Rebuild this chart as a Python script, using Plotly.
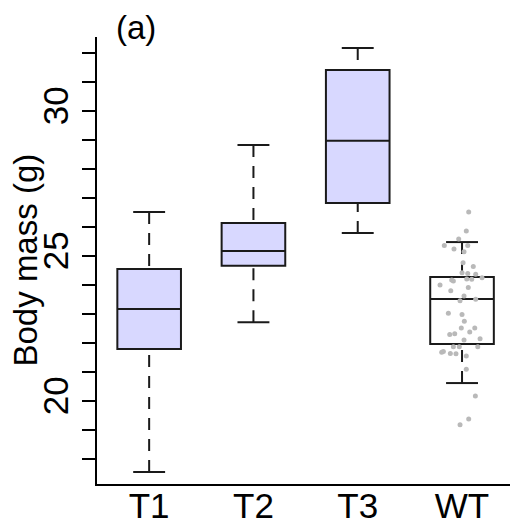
import plotly.graph_objects as go

# ---- data ----
groups = ["T1", "T2", "T3", "WT"]
positions = [1, 2, 3, 4]
lower_whisker = [17.55, 22.72, 25.79, 20.62]
q1 = [21.79, 24.66, 26.83, 21.97]
median = [23.17, 25.17, 28.97, 23.52]
q3 = [24.55, 26.14, 31.41, 24.28]
upper_whisker = [26.52, 28.83, 32.17, 25.48]

wt_values = [26.52, 25.86, 25.59, 25.36, 25.24, 25.36, 25.15, 24.77, 24.64, 24.40,
             24.37, 24.25, 24.42, 24.20, 24.21, 24.17, 24.14, 24.00, 23.80, 23.91,
             23.62, 23.51, 23.46, 23.03, 22.98, 22.75, 22.52, 22.52, 22.38, 22.32,
             22.29, 22.10, 22.15, 21.87, 21.87, 21.87, 21.71, 21.68, 21.64, 21.63,
             21.55, 21.10, 20.17, 19.38, 19.18]
wt_jitter = [0.064, 0.041, -0.032, -0.170, -0.077, 0.055, 0.019, 0.010, 0.108, 0.055,
             0.131, 0.192, 0.0, 0.093, 0.045, -0.099, -0.083, -0.211, -0.108, 0.060,
             0.019, 0.131, -0.019, -0.131, 0.0, 0.022, -0.007, 0.122, 0.074, -0.070,
             -0.118, 0.019, 0.173, 0.151, -0.083, -0.026, -0.179, -0.195, -0.112, -0.058,
             0.041, 0.041, 0.128, 0.064, -0.019]

y_ticks = list(range(18, 33))
y_labels = {20: "20", 25: "25", 30: "30"}
y_title = "Body mass (g)"
panel_label = "(a)"

# ---- styling ----
BOX_FILL = "rgb(216,216,255)"
LINE = "#1a1a1a"
BOX_W = 0.61
CAP_HALF = 0.153

fig = go.Figure()

# boxes (whiskers drawn separately, dashed)
for idx_set, fill in (([0, 1, 2], BOX_FILL), ([3], "white")):
    fig.add_trace(go.Box(
        x=[positions[i] for i in idx_set],
        q1=[q1[i] for i in idx_set],
        median=[median[i] for i in idx_set],
        q3=[q3[i] for i in idx_set],
        lowerfence=[q1[i] for i in idx_set],
        upperfence=[q3[i] for i in idx_set],
        width=BOX_W,
        whiskerwidth=0,
        fillcolor=fill,
        line=dict(color=LINE, width=2),
        boxpoints=False,
        hoverinfo="skip",
        showlegend=False,
    ))

# dashed whiskers (from staple to box edge)
wx, wy = [], []
for i, p in enumerate(positions):
    wx += [p, p, None, p, p, None]
    wy += [lower_whisker[i], q1[i], None, upper_whisker[i], q3[i], None]
fig.add_trace(go.Scatter(x=wx, y=wy, mode="lines",
                         line=dict(color=LINE, width=2, dash="12px,9px"),
                         hoverinfo="skip", showlegend=False))

# staples
sx, sy = [], []
for i, p in enumerate(positions):
    for v in (lower_whisker[i], upper_whisker[i]):
        sx += [p - CAP_HALF, p + CAP_HALF, None]
        sy += [v, v, None]
fig.add_trace(go.Scatter(x=sx, y=sy, mode="lines",
                         line=dict(color=LINE, width=2),
                         hoverinfo="skip", showlegend=False))

# WT raw points
fig.add_trace(go.Scatter(
    x=[positions[3] + d for d in wt_jitter], y=wt_values, mode="markers",
    marker=dict(color="rgb(185,185,185)", size=5),
    hoverinfo="skip", showlegend=False))

FONT = "Liberation Sans, Arial, sans-serif"

fig.update_layout(
    width=510, height=527,
    margin=dict(l=97, r=0, t=37, b=43, autoexpand=False),
    paper_bgcolor="white", plot_bgcolor="white",
    boxmode="overlay",
    font=dict(family=FONT, color="black"),
    xaxis=dict(range=[0.5, 4.46], tickvals=positions, ticktext=groups,
               ticks="", showgrid=False, zeroline=False, automargin=False,
               showline=True, linecolor="black", linewidth=2,
               tickfont=dict(size=35), ticklabelstandoff=-10),
    yaxis=dict(range=[17.14, 32.55], tickvals=y_ticks,
               ticktext=[y_labels.get(t, "") for t in y_ticks],
               ticks="outside", ticklen=13, tickwidth=2, tickcolor="black",
               tickangle=-90, showgrid=False, zeroline=False, automargin=False,
               showline=True, linecolor="black", linewidth=2,
               tickfont=dict(size=35)),
    annotations=[
        dict(text=panel_label, xref="paper", yref="paper",
             x=(114 - 97) / 413, xanchor="left",
             y=1 + (37 - 27.5) / 447, yanchor="middle",
             showarrow=False, font=dict(family=FONT, size=33, color="black")),
        dict(text=y_title, xref="paper", yref="paper", textangle=-90,
             x=(25 - 97) / 413, xanchor="center", y=0.5, yanchor="middle",
             showarrow=False, font=dict(family=FONT, size=33, color="black")),
    ],
)

fig.write_html("out.html", config={"displayModeBar": False},
               post_script="document.body.style.margin='0';document.body.style.padding='0';")
